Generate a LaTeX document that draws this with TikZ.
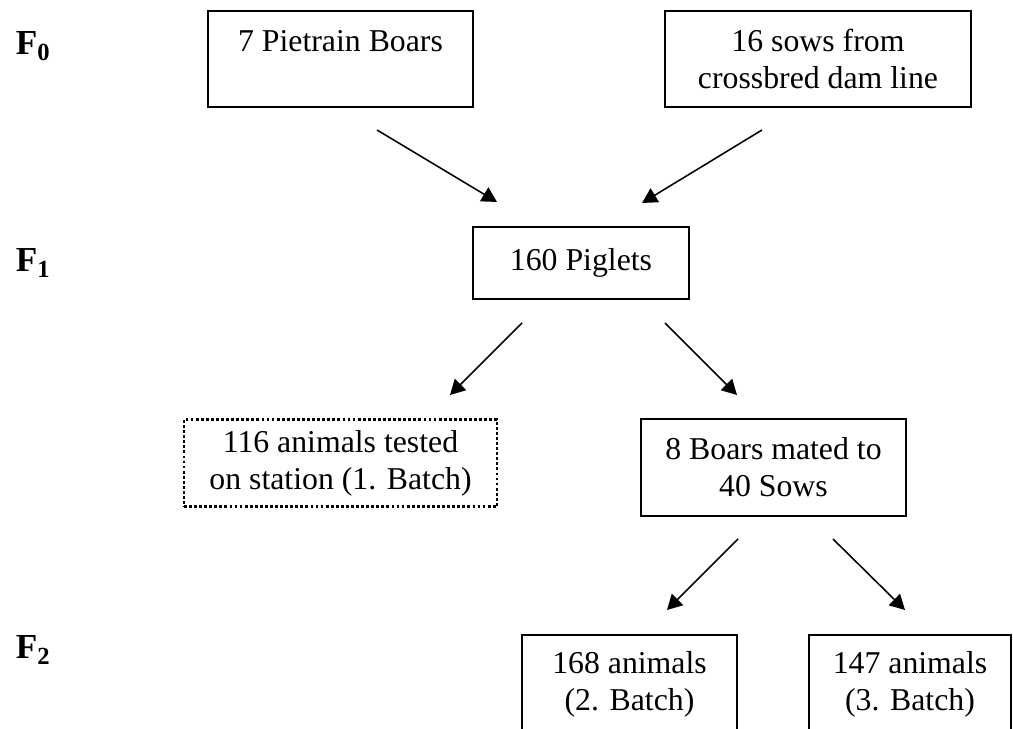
\documentclass[tikz,border=0pt]{standalone}
\usepackage{fontspec}
\setmainfont{Liberation Serif}
\usetikzlibrary{arrows.meta}

\tikzset{
    gen/.style={font=\fontsize{25}{29}\selectfont\bfseries, anchor=west},
    box/.style={draw, line width=1.3pt, align=center, inner sep=0pt,
        font=\fontsize{22.6}{26.3}\selectfont},
    dotbox/.style={box, line width=2pt, dash pattern=on 2pt off 1.6pt},
    arr/.style={line width=1.1pt, -{Triangle[length=0.375cm, width=0.4cm]}}
}

\begin{document}
\begin{tikzpicture}[x=0.025cm, y=-0.025cm]

        \clip (0, 0) rectangle (1013, 729);

        % generations
        \node[gen] (f0) at (11, 46) {F\textsubscript{0}};
        \node[gen] (f1) at (11, 263) {F\textsubscript{1}};
        \node[gen] (f2) at (11, 650) {F\textsubscript{2}};

        % F0
        \node[box, minimum width=6.625cm, minimum height=2.4cm] (boars) at (340.5, 59)
            {7 Pietrain Boars\\ \mbox{}};
        \node[box, minimum width=7.65cm, minimum height=2.4cm] (sows) at (818, 59)
            {16 sows from\\ crossbred dam line};

        % F1
        \node[box, minimum width=5.4cm, minimum height=1.8cm] (piglets) at (581, 263)
            {160 Piglets};

        \node[dotbox, minimum width=7.825cm, minimum height=2.175cm] (tested) at (340.5, 463)
            {116 animals tested\\ on station (1. Batch)};
        \node[box, minimum width=6.625cm, minimum height=2.425cm] (mated) at (773.5, 467.5)
            {8 Boars mated to\\ 40 Sows};

        % F2
        \node[box, minimum width=5.375cm, minimum height=2.45cm] (batch2) at (629.5, 684)
            {168 animals\\ (2. Batch)};
        \node[box, minimum width=5.05cm, minimum height=2.45cm] (batch3) at (910, 684)
            {147 animals\\ (3. Batch)};

        % arrow ends
        \coordinate (a1s) at (377, 130);
        \coordinate (a1e) at (497, 202);
        \coordinate (a2s) at (762, 130);
        \coordinate (a2e) at (642, 203);
        \coordinate (a3s) at (522, 323);
        \coordinate (a3e) at (450, 395);
        \coordinate (a4s) at (665, 323);
        \coordinate (a4e) at (737, 395);
        \coordinate (a5s) at (738, 539);
        \coordinate (a5e) at (667, 610);
        \coordinate (a6s) at (833, 539);
        \coordinate (a6e) at (905, 610);

        \draw[arr] (a1s) -- (a1e);
        \draw[arr] (a2s) -- (a2e);
        \draw[arr] (a3s) -- (a3e);
        \draw[arr] (a4s) -- (a4e);
        \draw[arr] (a5s) -- (a5e);
        \draw[arr] (a6s) -- (a6e);

    \end{tikzpicture}
\end{document}
